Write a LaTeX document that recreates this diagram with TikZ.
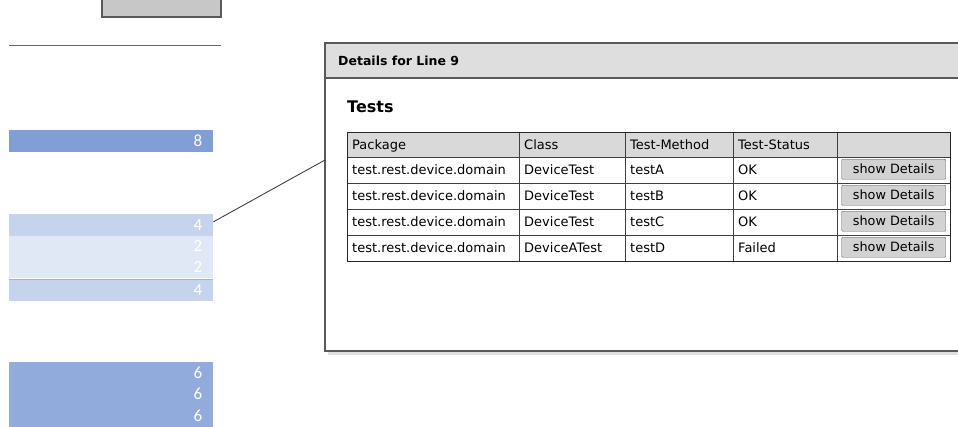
\documentclass[tikz,border=0pt]{standalone}
\usepackage{fontspec}
\setmainfont{Carlito}
\newfontfamily\mockfont{DejaVu Sans}
\usetikzlibrary{positioning}

\definecolor{barEight}{HTML}{7F9FD6}
\definecolor{barFour}{HTML}{C5D3EC}
\definecolor{barTwo}{HTML}{E0E7F5}
\definecolor{barSix}{HTML}{91ABDC}
\definecolor{winGray}{HTML}{DEDEDE}
\definecolor{headGray}{HTML}{D9D9D9}
\definecolor{btnGray}{HTML}{D2D2D2}

\begin{document}
\begin{tikzpicture}[x=1pt, y=-1pt,
    bar/.style={anchor=north west, minimum width=204pt, minimum height=21.3pt,
      inner xsep=11pt, inner ysep=0pt, text width=182pt, align=right,
      text=white, font=\fontsize{17}{17}\selectfont},
    cell/.style={anchor=north west, minimum height=26pt, inner xsep=5pt,
      inner ysep=0pt, text width=#1-10pt, align=left, draw=black!75,
      text height=9.5pt, text depth=0pt,
      font=\mockfont\fontsize{13}{13}\selectfont},
    headcell/.style={cell=#1, minimum height=25pt, fill=headGray},
    detailsbtn/.style={draw=black!65, fill=btnGray, minimum width=104pt,
      minimum height=20pt, inner sep=0pt, rounded corners=1pt,
      text height=9.5pt, text depth=0pt,
      font=\mockfont\fontsize{12.8}{12.8}\selectfont}]

    \useasboundingbox (0,0) rectangle (958,426);
    \clip (0,0) rectangle (958,426);

    % left side
    \draw[black!65, line width=1.5pt, fill=black!22] (102,-5) rectangle (221,17);
    \draw[black!60, line width=0.8pt] (9,45) -- (221,45);

    \node[bar, fill=barEight] (r8) at (9,130) {8};
    \node[bar, fill=barFour] (r4a) at (9,214) {4};
    \node[bar, fill=barTwo] (r2a) at (9,235.3) {2};
    \node[bar, fill=barTwo] (r2b) at (9,256.6) {2};
    \node[bar, fill=barFour] (r4b) at (9,279) {4};
    \draw[barFour!80!black!90, line width=0.6pt] (r4b.north west) -- (r4b.north east);

    \node[bar, fill=barSix] (r6a) at (9,362) {6};
    \node[bar, fill=barSix] (r6b) at (9,383.3) {6};
    \node[bar, fill=barSix, minimum height=22pt] (r6c) at (9,404.6) {6};

    % details window
    \fill[black!12] (328,47) rectangle (985,355);
    \draw[black!65, line width=1.5pt, fill=white] (325,43) rectangle (980,351);
    \draw[black!65, line width=1.5pt, fill=winGray] (325,43) rectangle (980,78);
    \coordinate (winhook) at (325,160);

    \node[anchor=west, inner sep=0pt, font=\mockfont\fontsize{12.5}{12.5}\selectfont\bfseries]
      (title) at (338,61) {Details for Line 9};
    \node[anchor=west, inner sep=0pt, font=\mockfont\fontsize{16}{16}\selectfont\bfseries]
      (tests) at (347,107) {Tests};

    \draw[black!75, line width=0.9pt] (r4a.east) ++(0,-3) -- (winhook);

    % table
    \node[headcell=172pt] (h1) at (347,132) {Package};
    \node[headcell=106pt] (h2) at (519,132) {Class};
    \node[headcell=108pt] (h3) at (625,132) {Test-Method};
    \node[headcell=104pt] (h4) at (733,132) {Test-Status};
    \node[headcell=113pt] (h5) at (837,132) {};

    \foreach \n/\yy/\cls/\meth/\stat in {1/157/DeviceTest/testA/OK,
        2/183/DeviceTest/testB/OK, 3/209/DeviceTest/testC/OK,
        4/235/DeviceATest/testD/Failed}{
      \node[cell=172pt] (p\n) at (347,\yy) {test.rest.device.domain};
      \node[cell=106pt] (c\n) at (519,\yy) {\cls};
      \node[cell=108pt] (m\n) at (625,\yy) {\meth};
      \node[cell=104pt] (s\n) at (733,\yy) {\stat};
      \node[cell=113pt] (b\n) at (837,\yy) {};
      \node[detailsbtn] (btn\n) at ([yshift=1pt]b\n.center) {show Details};
    }
    \draw[black!85, line width=1pt] (h1.north west) rectangle (b4.south east);

\end{tikzpicture}
\end{document}
